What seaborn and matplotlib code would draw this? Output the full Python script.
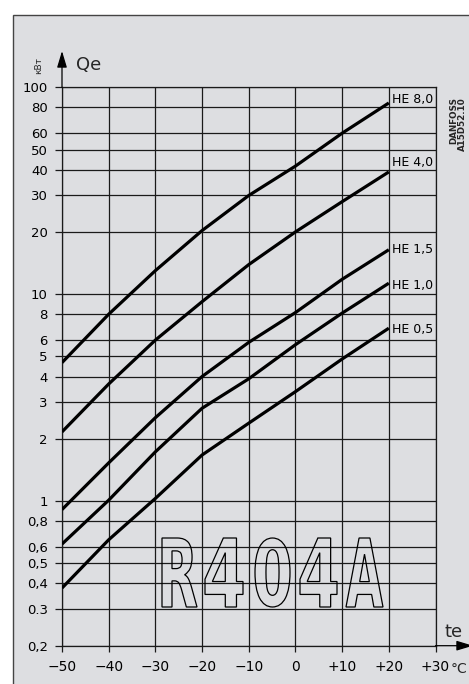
import numpy as np
import pandas as pd
import matplotlib
matplotlib.use("Agg")
import matplotlib.pyplot as plt
import seaborn as sns
from matplotlib.ticker import FixedLocator, FixedFormatter, NullLocator
from matplotlib.patches import Rectangle, PathPatch
from matplotlib.textpath import TextPath
from matplotlib.font_manager import FontProperties
import matplotlib.transforms as mtransforms

# ---------------- data ----------------
te = [-50, -40, -30, -20, -10, 0, 10, 20]
he_80 = [4.67, 8.0, 13.0, 20.3, 30.0, 41.6, 60.0, 84.0]
he_40 = [2.16, 3.68, 6.0, 9.2, 13.9, 20.0, 28.0, 39.0]
he_15 = [0.91, 1.53, 2.53, 4.0, 5.85, 8.15, 11.8, 16.4]
he_10 = [0.62, 1.01, 1.73, 2.81, 3.9, 5.7, 8.1, 11.3]
he_05 = [0.38, 0.65, 1.03, 1.67, 2.38, 3.38, 4.86, 6.85]
series_names = ["HE 8,0", "HE 4,0", "HE 1,5", "HE 1,0", "HE 0,5"]

x_ticks = [-50, -40, -30, -20, -10, 0, 10, 20, 30]
x_ticklabels = ["\u221250", "\u221240", "\u221230", "\u221220", "\u221210", "0", "+10", "+20", "+30"]
y_ticks = [0.2, 0.3, 0.4, 0.5, 0.6, 0.8, 1, 2, 3, 4, 5, 6, 8, 10, 20, 30, 40, 50, 60, 80, 100]
y_ticklabels = ["0,2", "0.3", "0,4", "0,5", "0,6", "0,8", "1", "2", "3", "4", "5", "6", "8",
                "10", "20", "30", "40", "50", "60", "80", "100"]

refrigerant = "R404A"

# label vertical nudges in pixels (style only)
label_dy = [3.5, 9, 0.5, -2, -1]
# pixel boxes (left, right) of the big outlined letters (style only)
letter_boxes = [(162, 197), (205, 243), (255, 290), (300, 337), (346, 383)]

# ---------------- figure ----------------
sns.set_theme(style="ticks")
plt.rcParams["font.family"] = ["DejaVu Sans"]

W, H = 469, 684
BG = "#dddee1"
fig = plt.figure(figsize=(W / 100, H / 100), dpi=100, facecolor="white")

# panel background with border (left/top visible)
fig.add_artist(Rectangle((13 / W, -0.05), 1.2, (H - 15) / H + 0.05, transform=fig.transFigure,
                         facecolor=BG, edgecolor="#444444", lw=1.0, zorder=-5))

ax_left, ax_right = 62, 435.5
ax_top, ax_bot = 87.3, 645.7
ax = fig.add_axes([ax_left / W, (H - ax_bot) / H, (ax_right - ax_left) / W, (ax_bot - ax_top) / H])
ax.set_facecolor("none")

df = pd.DataFrame({
    "te": te * 5,
    "Q": he_80 + he_40 + he_15 + he_10 + he_05,
    "series": sum([[n] * len(te) for n in series_names], []),
})
sns.lineplot(data=df, x="te", y="Q", hue="series", hue_order=series_names,
             palette=["black"] * 5, linewidth=2.3, legend=False, ax=ax, zorder=4,
             solid_capstyle="butt")

ax.set_yscale("log")
ax.set_xlim(-50, 30)
ax.set_ylim(0.2, 100)
ax.xaxis.set_major_locator(FixedLocator(x_ticks))
ax.xaxis.set_major_formatter(FixedFormatter(x_ticklabels))
ax.yaxis.set_major_locator(FixedLocator(y_ticks))
ax.yaxis.set_major_formatter(FixedFormatter(y_ticklabels))
ax.yaxis.set_minor_locator(NullLocator())
ax.xaxis.set_minor_locator(NullLocator())
ax.grid(True, which="major", color="#1a1a1a", lw=0.9)
for s in ax.spines.values():
    s.set_color("#1a1a1a")
    s.set_linewidth(0.9)
ax.tick_params(axis="y", direction="out", length=5.2, width=0.9, color="#1a1a1a",
               pad=5, labelsize=9.5, labelcolor="black")
ax.tick_params(axis="x", direction="out", length=4, width=0.9, color="#1a1a1a",
               pad=6.5, labelsize=10, labelcolor="black")
ax.set_xlabel("")
ax.set_ylabel("")

# curve labels
for name, vals, dy in zip(series_names, [he_80, he_40, he_15, he_10, he_05], label_dy):
    ax.annotate(name, xy=(te[-1], vals[-1]), xytext=(3, dy), textcoords="offset pixels",
                ha="left", va="center", fontsize=9, color="black", zorder=5)

# axis arrows
ax.annotate("", xy=(62, H - 51), xycoords="figure pixels", xytext=(62, H - 87.3),
            textcoords="figure pixels",
            arrowprops=dict(arrowstyle="-|>,head_length=1.0,head_width=0.3", color="black",
                            lw=0.9, shrinkA=0, shrinkB=0, mutation_scale=10))
ax.annotate("", xy=(473, H - 645.7), xycoords="figure pixels", xytext=(435.5, H - 645.7),
            textcoords="figure pixels",
            arrowprops=dict(arrowstyle="-|>,head_length=1.0,head_width=0.3", color="black",
                            lw=0.9, shrinkA=0, shrinkB=0, mutation_scale=10))

# axis titles
fig.text(76 / W, (H - 70) / H, "Qe", fontsize=13, ha="left", va="baseline")
fig.text(39 / W, (H - 66) / H, "кВт", fontsize=6.5, rotation=90, ha="center", va="center")
fig.text(444 / W, (H - 637) / H, "te", fontsize=13, ha="left", va="baseline")
fig.text(451 / W, (H - 673) / H, "°C", fontsize=10, ha="left", va="baseline")
fig.text(449 / W, (H - 97) / H, "DANFOSS\nA15D52.10", fontsize=6.3, fontweight="bold",
         rotation=90, ha="left", va="top", multialignment="right", linespacing=1.0)

# big outlined refrigerant name, one glyph per box, transparent (grid shows through)
fp = FontProperties(family=["DejaVu Sans"], weight="bold")
top_px, bot_px = 538, 607
for ch, (lx, rx) in zip(refrigerant, letter_boxes):
    tp = TextPath((0, 0), ch, size=100, prop=fp)
    ext = tp.get_extents()
    tr = (mtransforms.Affine2D().translate(-ext.x0, -ext.y0)
          .scale((rx - lx) / ext.width / W, (bot_px - top_px) / ext.height / H)
          .translate(lx / W, (H - bot_px) / H) + fig.transFigure)
    fig.add_artist(PathPatch(tp, transform=tr, fill=False, edgecolor="black", lw=0.9, zorder=6))

fig.savefig("out.png", dpi=100, facecolor="white")
